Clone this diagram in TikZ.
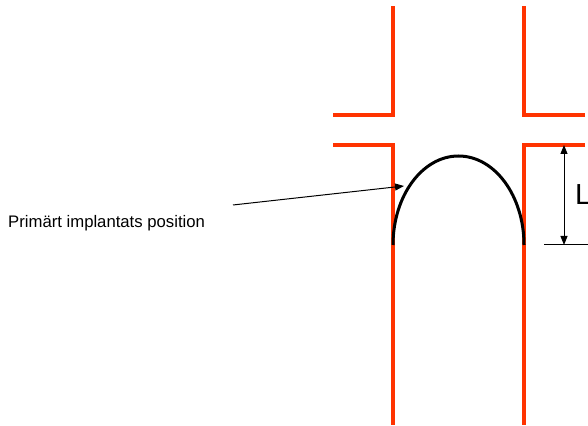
\documentclass[tikz,border=0pt]{standalone}
\usepackage{fontspec}
\setmainfont{Liberation Sans}
\usetikzlibrary{arrows.meta}
\definecolor{vessel}{RGB}{255,51,0}
\tikzset{
  wall/.style={draw=vessel, line width=4pt, line join=miter},
  implant/.style={draw=black, line width=3pt},
  pointer/.style={draw=black, line width=1pt, -{Triangle[length=9pt,width=7pt]}},
  dimarrow/.style={draw=black, line width=1pt, {Triangle[length=9pt,width=7pt]}-{Triangle[length=9pt,width=7pt]}},
  dimline/.style={draw=black, line width=1pt}
}
\begin{document}
\begin{tikzpicture}[x=1pt,y=1pt]
\useasboundingbox (0,0) rectangle (588,425);
% vessel walls
\coordinate (ulh) at (333,310);
\coordinate (ulc) at (393,310);
\coordinate (ult) at (393,419);
\coordinate (urh) at (585,310);
\coordinate (urc) at (524,310);
\coordinate (urt) at (524,419);
\coordinate (llh) at (333,280);
\coordinate (llc) at (393,280);
\coordinate (llb) at (393,0);
\coordinate (lrh) at (585,280);
\coordinate (lrc) at (524,280);
\coordinate (lrb) at (524,0);
\draw[wall] (ulh) -- (ulc) -- (ult);
\draw[wall] (urh) -- (urc) -- (urt);
\draw[wall] (llh) -- (llc) -- (llb);
\draw[wall] (lrh) -- (lrc) -- (lrb);
% implant
\coordinate (ileft) at (393,180);
\draw[implant] (ileft) arc[start angle=180, end angle=0, x radius=65.5, y radius=89];
% label and pointer
\node[anchor=base west, inner sep=0pt, font=\fontsize{16.7}{20}\selectfont] (lab) at (8,197) {Primärt implantats position};
\coordinate (pstart) at (233,220);
\coordinate (ptip) at (404,239);
\draw[pointer] (pstart) -- (ptip);
% dimension L
\coordinate (dtop) at (564,280);
\coordinate (dbot) at (564,180);
\coordinate (dl1) at (544,180);
\coordinate (dl2) at (588,180);
\draw[dimline] (dl1) -- (dl2);
\draw[dimarrow] (dtop) -- (dbot);
\node[anchor=base west, inner sep=0pt, font=\fontsize{29}{34}\selectfont] (Ltxt) at (575,220) {L};
\end{tikzpicture}
\end{document}
